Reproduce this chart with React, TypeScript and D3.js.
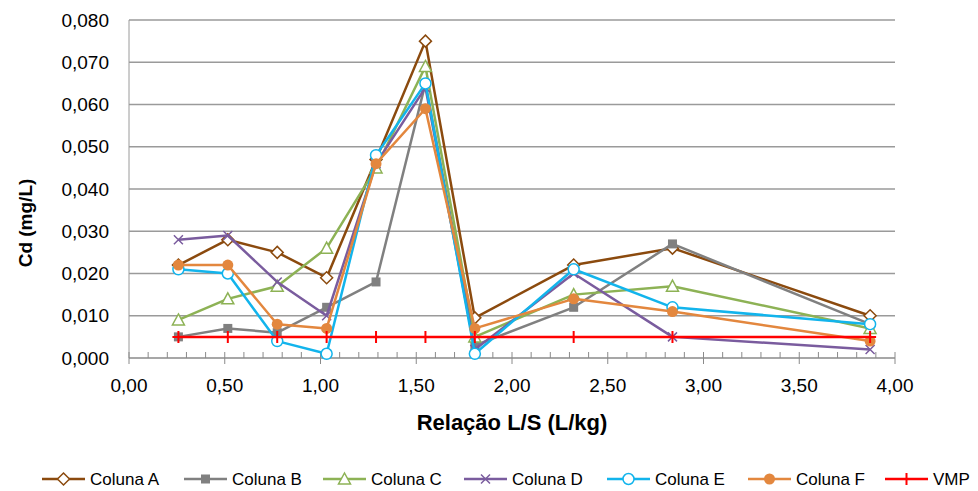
import * as d3 from "d3";

const ratios = [0.258, 0.516, 0.774, 1.032, 1.29, 1.548, 1.806, 2.322, 2.838, 3.87];
const colunaA = [0.022, 0.028, 0.025, 0.019, 0.047, 0.075, 0.0095, 0.022, 0.026, 0.010];
const colunaB = [0.005, 0.007, 0.006, 0.012, 0.018, 0.065, 0.003, 0.012, 0.027, 0.008];
const colunaC = [0.009, 0.014, 0.017, 0.026, 0.045, 0.069, 0.005, 0.015, 0.017, 0.007];
const colunaD = [0.028, 0.029, 0.018, 0.010, 0.046, 0.064, 0.002, 0.020, 0.005, 0.002];
const colunaE = [0.021, 0.020, 0.004, 0.001, 0.048, 0.065, 0.001, 0.021, 0.012, 0.008];
const colunaF = [0.022, 0.022, 0.008, 0.007, 0.046, 0.059, 0.007, 0.014, 0.011, 0.004];
const vmp = [0.005, 0.005, 0.005, 0.005, 0.005, 0.005, 0.005, 0.005, 0.005, 0.005];

const seriesNames = ["Coluna A", "Coluna B", "Coluna C", "Coluna D", "Coluna E", "Coluna F", "VMP"];
const seriesValues = [colunaA, colunaB, colunaC, colunaD, colunaE, colunaF, vmp];
const seriesColors = ["#8B4A0E", "#808080", "#8DB255", "#7A5C9E", "#12B4EC", "#E3873E", "#FF0000"];
const seriesMarkers = ["diamond", "square", "triangle", "cross", "circle", "dot", "plus"];

const yTicks = [0, 0.01, 0.02, 0.03, 0.04, 0.05, 0.06, 0.07, 0.08];
const xTicks = [0, 0.5, 1, 1.5, 2, 2.5, 3, 3.5, 4];

const W = 978;
const H = 491;
const FONT = "'Liberation Sans', Arial, sans-serif";

const ptBR = d3.formatLocale({ decimal: ",", thousands: ".", grouping: [3], currency: ["", ""] });
const fmtY = ptBR.format(".3f");
const fmtX = ptBR.format(".2f");

function Marker({ type, cx, cy, color }: { type: string; cx: number; cy: number; color: string }) {
  switch (type) {
    case "diamond":
      return (
        <path
          d={`M${cx},${cy - 6}L${cx + 6},${cy}L${cx},${cy + 6}L${cx - 6},${cy}Z`}
          fill="#fff"
          stroke={color}
          strokeWidth={1.5}
        />
      );
    case "square":
      return <rect x={cx - 4.5} y={cy - 4.5} width={9} height={9} fill={color} />;
    case "triangle":
      return (
        <path
          d={`M${cx},${cy - 6}L${cx + 6},${cy + 5}L${cx - 6},${cy + 5}Z`}
          fill="#fff"
          stroke={color}
          strokeWidth={1.5}
        />
      );
    case "cross":
      return (
        <path
          d={`M${cx - 4.5},${cy - 4.5}L${cx + 4.5},${cy + 4.5}M${cx + 4.5},${cy - 4.5}L${cx - 4.5},${cy + 4.5}`}
          stroke={color}
          strokeWidth={1.5}
        />
      );
    case "circle":
      return <circle cx={cx} cy={cy} r={5.5} fill="#fff" stroke={color} strokeWidth={1.5} />;
    case "dot":
      return <circle cx={cx} cy={cy} r={5.5} fill={color} />;
    case "plus":
      return (
        <path
          d={`M${cx - 6},${cy}L${cx + 6},${cy}M${cx},${cy - 6}L${cx},${cy + 6}`}
          stroke={color}
          strokeWidth={2}
        />
      );
    default:
      return null;
  }
}

export default function App() {
  const x = d3.scaleLinear().domain([0, 4]).range([129, 895]);
  const y = d3.scaleLinear().domain([0, 0.08]).range([358, 20]);
  const line = d3
    .line<number>()
    .x((_, i) => x(ratios[i]))
    .y((v) => y(v));

  const minorTicks = d3.range(0, 41).map((i) => i / 10);
  const legendX = [42, 184, 323, 464, 607, 748, 885];
  const legendY = 479;

  return (
    <svg width={W} height={H} style={{ position: "absolute", left: 0, top: 0 }} fontFamily={FONT}>
      <rect width={W} height={H} fill="#fff" />

      {/* gridlines */}
      {yTicks.slice(1).map((t) => (
        <line key={"g" + t} x1={x(0)} x2={x(4)} y1={y(t)} y2={y(t)} stroke="#9a9a9a" strokeWidth={1.5} />
      ))}
      <line x1={x(0)} x2={x(0)} y1={y(0.08)} y2={y(0)} stroke="#9a9a9a" strokeWidth={1} />
      <line x1={x(0)} x2={x(4)} y1={y(0)} y2={y(0)} stroke="#8a8a8a" strokeWidth={1.5} />

      {/* x axis ticks */}
      {minorTicks.map((t, i) => (
        <line
          key={"t" + i}
          x1={x(t)}
          x2={x(t)}
          y1={y(0) - 6}
          y2={y(0) + (i % 5 === 0 ? 6 : 0)}
          stroke="#8a8a8a"
          strokeWidth={1}
        />
      ))}

      {yTicks.map((t) => (
        <text key={"yl" + t} x={109} y={y(t)} dy="0.35em" textAnchor="end" fontSize={19} fill="#000">
          {fmtY(t)}
        </text>
      ))}
      {xTicks.map((t) => (
        <text key={"xl" + t} x={x(t)} y={392} textAnchor="middle" fontSize={19} fill="#000">
          {fmtX(t)}
        </text>
      ))}

      <text x={512} y={430} textAnchor="middle" fontSize={22} fontWeight="bold">
        Relação L/S (L/kg)
      </text>
      <text transform={`translate(32,223) rotate(-90)`} textAnchor="middle" fontSize={19} fontWeight="bold">
        Cd (mg/L)
      </text>

      {/* series */}
      {seriesValues.map((vals, s) => (
        <g key={seriesNames[s]}>
          <path d={line(vals) || ""} fill="none" stroke={seriesColors[s]} strokeWidth={2.5} strokeLinejoin="round" />
          {vals.map((v, i) => (
            <Marker key={i} type={seriesMarkers[s]} cx={x(ratios[i])} cy={y(v)} color={seriesColors[s]} />
          ))}
        </g>
      ))}

      {/* legend */}
      {seriesNames.map((name, s) => (
        <g key={"lg" + name}>
          <line
            x1={legendX[s]}
            x2={legendX[s] + 43}
            y1={legendY}
            y2={legendY}
            stroke={seriesColors[s]}
            strokeWidth={2.5}
          />
          <Marker type={seriesMarkers[s]} cx={legendX[s] + 21.5} cy={legendY} color={seriesColors[s]} />
          <text x={legendX[s] + 48} y={legendY} dy="0.35em" fontSize={17}>
            {name}
          </text>
        </g>
      ))}
    </svg>
  );
}
